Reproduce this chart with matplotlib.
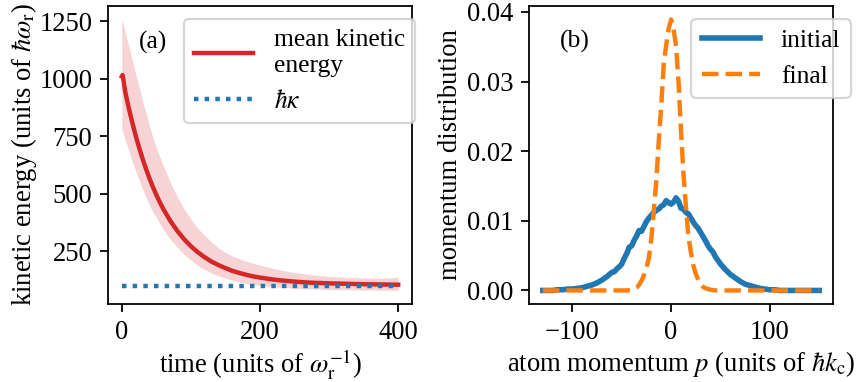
import matplotlib
matplotlib.use("Agg")
import matplotlib.pyplot as plt

plt.rcParams['font.family'] = ['Liberation Serif', 'DejaVu Serif']
plt.rcParams['mathtext.fontset'] = 'stix'
plt.rcParams['font.size'] = 11.5
plt.rcParams['axes.labelsize'] = 12
plt.rcParams['xtick.labelsize'] = 12
plt.rcParams['ytick.labelsize'] = 12

# (a) cooling: mean kinetic energy with spread, in units of hbar*omega_r
time = [0, 1, 2, 5, 10, 15, 20, 25, 30, 35, 40, 45, 50, 55, 60, 70, 80, 90,
        100, 110, 120, 130, 140, 150, 160, 170, 180, 190, 200, 220, 240,
        260, 280, 300, 325, 350, 375, 400]
ke_mean = [1010, 1016, 1000, 941, 873, 811, 753, 701, 652, 608, 567, 529,
           495, 463, 434, 383, 340, 303, 272, 246, 224, 205, 190, 177, 165,
           156, 148, 141, 136, 127, 121, 116, 113, 111, 109, 107, 106, 105]
ke_lower = [772, 775, 765, 730, 690, 640, 600, 560, 520, 485, 450, 420, 398,
            370, 345, 303, 268, 237, 212, 188, 170, 155, 143, 133, 124, 117,
            111, 106, 102, 96, 92, 88, 86, 84, 83, 82, 81, 80]
ke_upper = [1257, 1250, 1238, 1200, 1140, 1080, 1020, 965, 905, 850, 795,
            745, 700, 660, 622, 550, 488, 435, 390, 350, 318, 290, 265, 245,
            230, 218, 207, 198, 190, 175, 163, 154, 146, 141, 137, 134, 133,
            137]
hbar_kappa = 100

# (b) momentum distributions, in units of hbar*k_c
p_initial = [-130, -125, -120, -115, -110, -105, -100, -95, -90, -85, -80,
             -75, -70, -65, -60, -57.5, -55, -52.5, -50, -47.5, -45, -42.5,
             -40, -37.5, -35, -32.5, -30, -27.5, -25, -22.5, -20, -17.5, -15,
             -12.5, -10, -7.5, -5, -2.5, 0, 2.5, 5, 7.5, 10, 12.5, 15, 17.5,
             20, 22.5, 25, 27.5, 30, 32.5, 35, 37.5, 40, 42.5, 45, 47.5, 50,
             52.5, 55, 60, 65, 70, 75, 80, 85, 90, 95, 100, 105, 110, 115,
             120, 125, 130, 135, 140, 145, 150]
dist_initial = [0.0000, 0.0000, 0.0000, 0.0001, 0.0001, 0.0002, 0.0002,
                0.0003, 0.0004, 0.0006, 0.0008, 0.0011, 0.0015, 0.0020,
                0.0026, 0.0027, 0.0031, 0.0034, 0.0038, 0.0046, 0.0053,
                0.0062, 0.0064, 0.0072, 0.0078, 0.0086, 0.0085, 0.0092,
                0.0099, 0.0104, 0.0108, 0.0112, 0.0115, 0.0117, 0.0121,
                0.0123, 0.0129, 0.0126, 0.0124, 0.0127, 0.0133, 0.0128,
                0.0118, 0.0117, 0.0112, 0.0110, 0.0104, 0.0098, 0.0093,
                0.0089, 0.0083, 0.0077, 0.0071, 0.0064, 0.0059, 0.0055,
                0.0048, 0.0043, 0.0038, 0.0034, 0.0030, 0.0023, 0.0018,
                0.0013, 0.0009, 0.0007, 0.0005, 0.0003, 0.0002, 0.0001,
                0.0001, 0.0000, 0.0000, 0.0000, 0.0000, 0.0000, 0.0000,
                0.0000, 0.0000, 0.0000]
p_final = [-130, -120, -110, -100, -90, -80, -70, -60, -50, -45, -40, -37.5,
           -35, -32.5, -30, -27.5, -25, -22.5, -20, -17.5, -15, -12.5, -10,
           -7.5, -5, -2.5, 0, 2.5, 5, 7.5, 10, 12.5, 15, 17.5, 20, 22.5, 25,
           27.5, 30, 32.5, 35, 40, 45, 50, 60, 70, 80, 90, 100, 110, 120,
           130, 140, 150]
dist_final = [0, 0, 0, 0, 0, 0, 0, 0, 0, 0.0000, 0.0001, 0.0002,
              0.0004, 0.0008, 0.0014, 0.0022, 0.0032, 0.0047, 0.0075, 0.0115,
              0.0158, 0.0215, 0.0265, 0.0325, 0.0352, 0.0376, 0.0389, 0.0375,
              0.0351, 0.0300, 0.0230, 0.0168, 0.0120, 0.0078, 0.0055, 0.0036,
              0.0024, 0.0015, 0.0009, 0.0005, 0.0003, 0.0001, 0, 0, 0, 0, 0,
              0, 0, 0, 0, 0, 0, 0]

fig = plt.figure(figsize=(5.35, 2.3875), dpi=160)
ax1 = fig.add_axes([0.1262, 0.2042, 0.3551, 0.7801])
ax2 = fig.add_axes([0.618, 0.2042, 0.3551, 0.7801])

ax1.fill_between(time, ke_lower, ke_upper, color='tab:red', alpha=0.2,
                 linewidth=0)
ax1.plot(time, ke_mean, color='tab:red', lw=2, label='mean kinetic\nenergy')
ax1.plot([time[0], time[-1]], [hbar_kappa, hbar_kappa], color='tab:blue',
         lw=2, linestyle=(0, (1, 1.4)), label=r'$\hbar\kappa$')
ax1.set_xticks([0, 200, 400])
ax1.set_yticks([250, 500, 750, 1000, 1250])
ax1.set_xlabel(r'time (units of $\omega_\mathrm{r}^{-1}$)', labelpad=1)
ax1.set_ylabel(r'kinetic energy (units of $\hbar\omega_\mathrm{r}$)',
               labelpad=0)
ax1.text(0.1, 0.879, '(a)', transform=ax1.transAxes, va='center')
ax1.legend(loc='upper right', bbox_to_anchor=(1.01, 0.956), borderaxespad=0,
           handlelength=2.3, fontsize=11.5)

ax2.plot(p_initial, dist_initial, color='tab:blue', lw=2.5, label='initial')
ax2.plot(p_final, dist_final, color='tab:orange', lw=2, linestyle='--',
         label='final')
ax2.set_xticks([-100, 0, 100])
ax2.set_yticks([0.0, 0.01, 0.02, 0.03, 0.04])
ax2.set_xlabel(r'atom momentum $p$ (units of $\hbar k_\mathrm{c}$)',
               labelpad=2)
ax2.set_ylabel('momentum distribution', labelpad=2)
ax2.text(0.1, 0.88, '(b)', transform=ax2.transAxes, va='center')
ax2.legend(loc='upper right', bbox_to_anchor=(1.058, 0.956), borderaxespad=0,
           handlelength=2.3, fontsize=11.5)

fig.savefig('out.png', dpi=160)
